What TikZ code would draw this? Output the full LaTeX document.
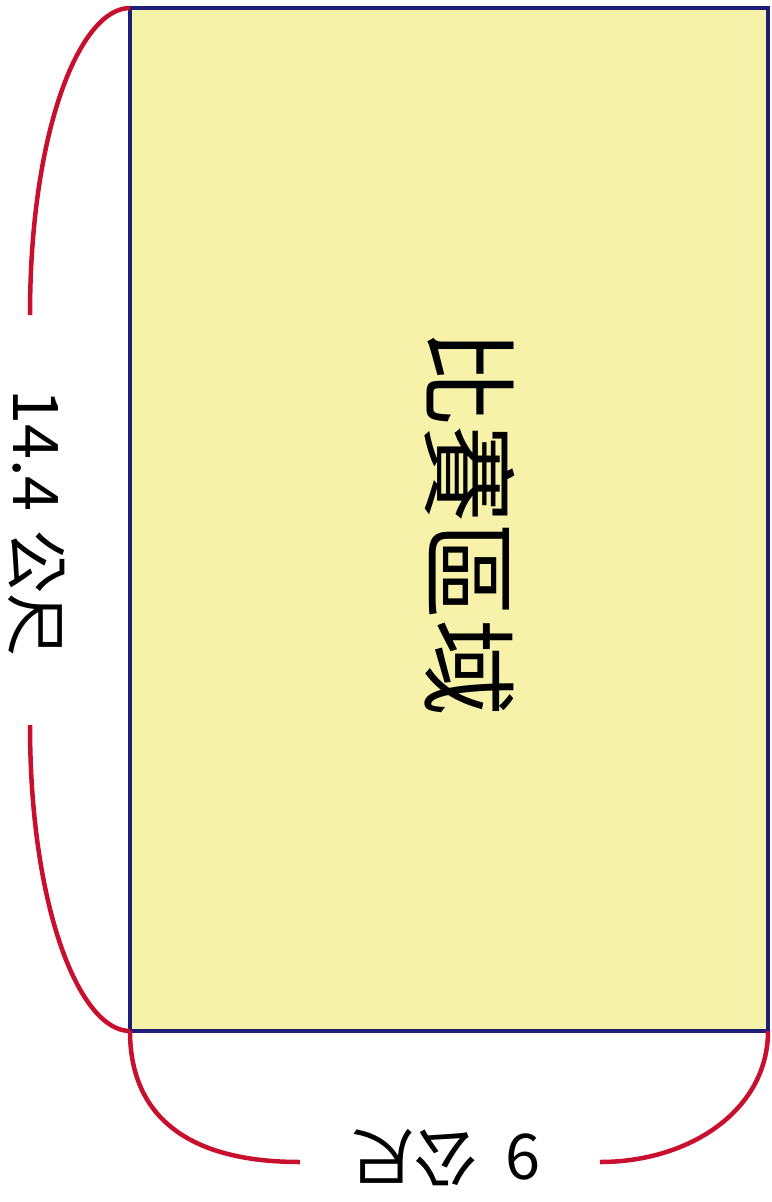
\documentclass[tikz,border=0pt]{standalone}
\usepackage{fontspec}
\setmainfont{Noto Sans CJK TC}
\definecolor{fieldfill}{HTML}{F6F2AA}
\definecolor{fieldline}{HTML}{1E1E78}
\definecolor{bracketred}{HTML}{C8102E}
\begin{document}
\begin{tikzpicture}[x=1pt,y=-1pt,
  field/.style={draw=fieldline,fill=fieldfill,line width=3.5pt,minimum width=638pt,minimum height=1023pt,inner sep=0pt,outer sep=0pt},
  bracket/.style={draw=bracketred,line width=4.5pt,line cap=butt},
  bigtxt/.style={font=\fontsize{97}{97}\selectfont,inner sep=0pt},
  dimtxt/.style={font=\fontsize{63}{63}\selectfont,inner sep=0pt}]
\useasboundingbox (0,0) rectangle (771,1202);
\node[field] (field) at (449,519.5) {};
\node[bigtxt,rotate=-90] (name) at (470,522) {比賽區域};
\node[dimtxt,rotate=-90] (len) at (37,523) {14.4\hspace{0.3em}公尺};
\node[dimtxt,rotate=180] (wid) at (446,1158) {9\hspace{0.45em}公尺};
\coordinate (l1) at (30,315);
\coordinate (l2) at (30,725);
\coordinate (b1) at (300,1162);
\coordinate (b2) at (600,1162);
\draw[bracket] (field.north west) .. controls (80,8) and (30,130) .. (l1);
\draw[bracket] (l2) .. controls (30,909) and (80,1031) .. (field.south west);
\draw[bracket] (field.south west) .. controls (130,1110) and (180,1162) .. (b1);
\draw[bracket] (b2) .. controls (690,1162) and (768,1110) .. (field.south east);
\end{tikzpicture}
\end{document}
